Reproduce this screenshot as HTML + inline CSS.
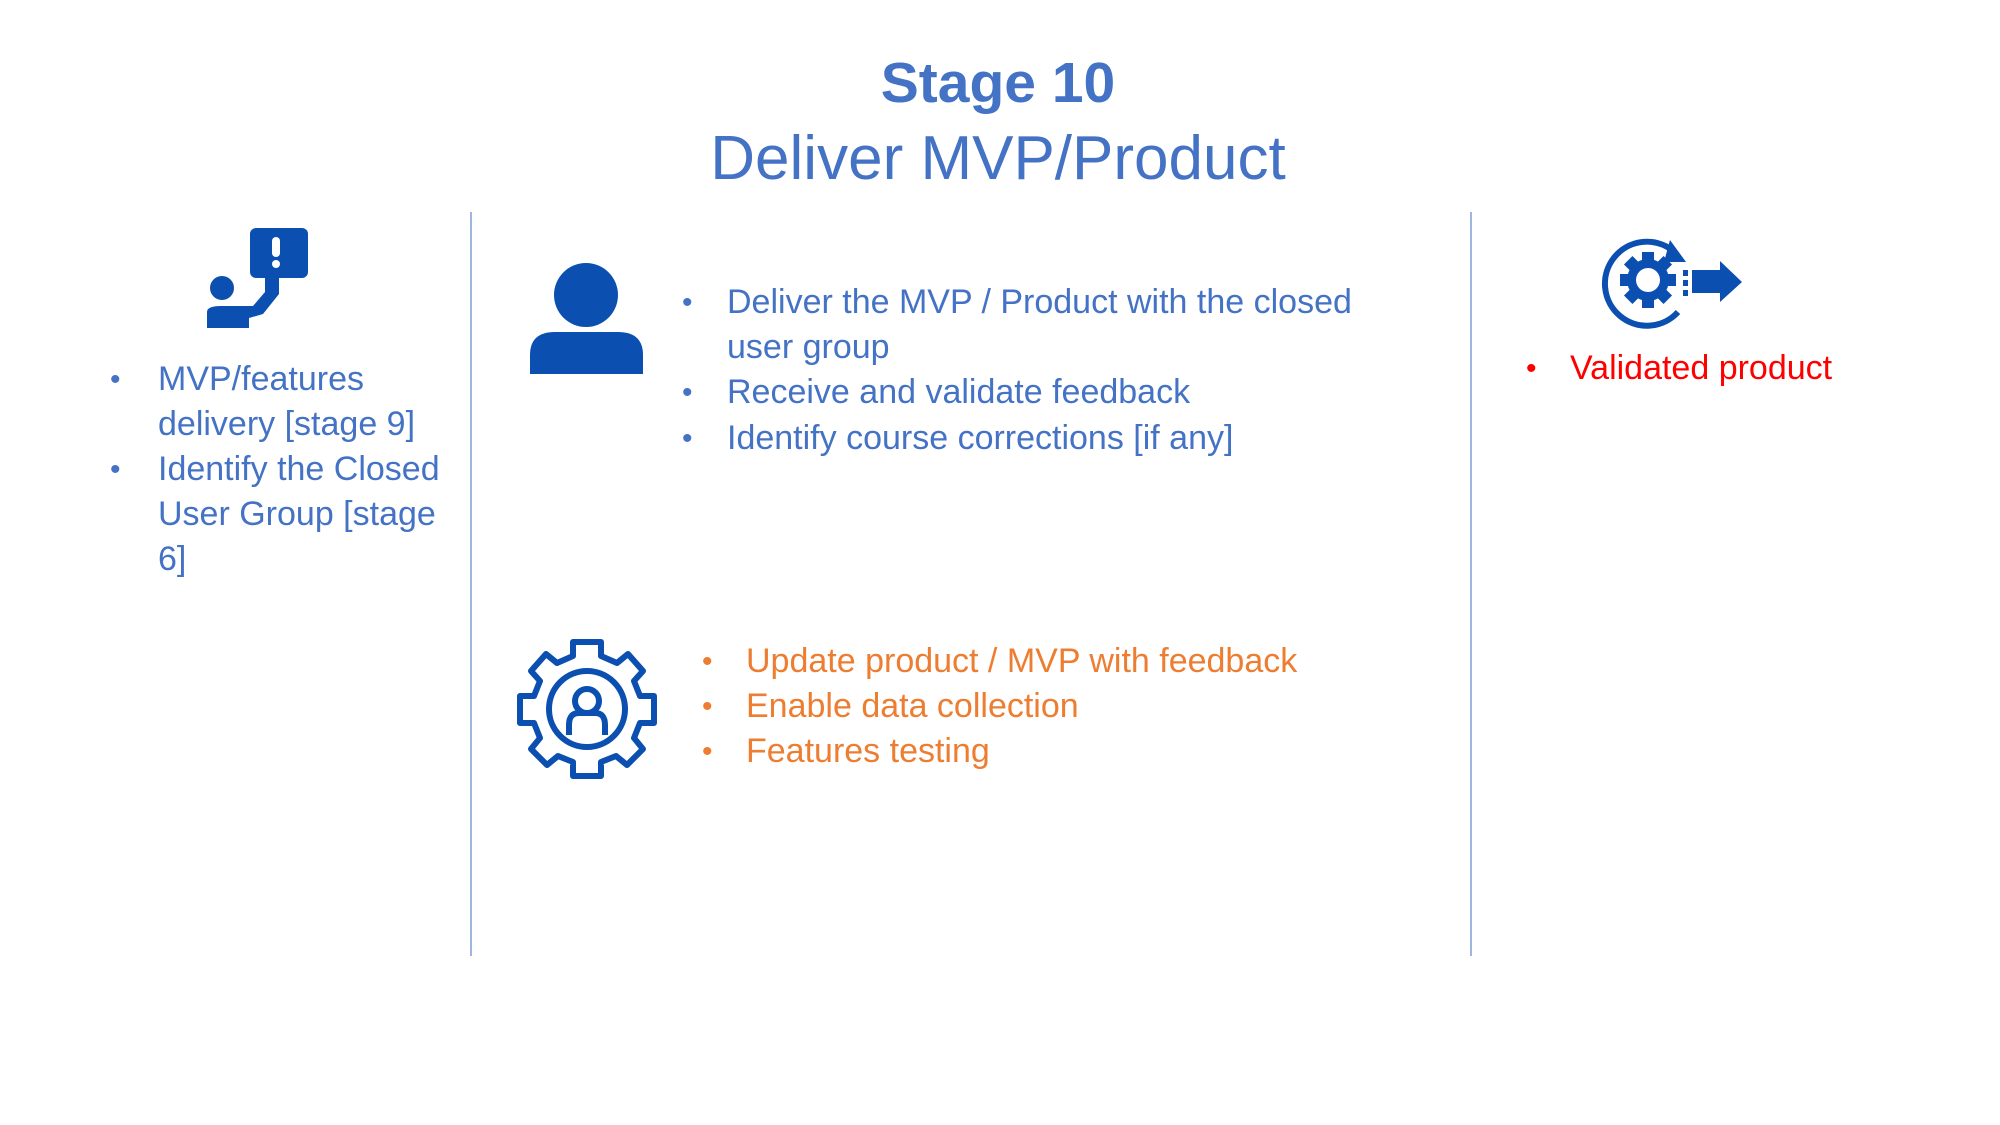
<!DOCTYPE html>
<html><head><meta charset="utf-8"><style>
body{margin:0;width:2000px;height:1125px;background:#fff;position:relative;overflow:hidden;font-family:"Liberation Sans",Calibri,sans-serif}
.t{position:absolute;white-space:nowrap;font-size:34px;line-height:45px;color:#4472C4}
.b{position:absolute;font-size:30px;line-height:45px}
.vl{position:absolute;top:212px;width:2px;height:744px;background:#9fb6de}
</style></head><body>
<div class="t" style="left:0;width:1996px;text-align:center;top:48px;font-size:57px;line-height:70px;font-weight:bold">Stage 10</div>
<div class="t" style="left:0;width:1996px;text-align:center;top:122px;font-size:62px;line-height:74px">Deliver MVP/Product</div>
<div class="vl" style="left:470px"></div>
<div class="vl" style="left:1470px"></div>

<svg style="position:absolute;left:205px;top:228px" width="105" height="102" viewBox="0 0 105 102">
<rect x="45" y="0" width="58" height="50" rx="6" fill="#0b4fb0"/>
<rect x="67" y="9" width="8" height="20" rx="4" fill="#fff"/><circle cx="71" cy="36" r="4" fill="#fff"/>
<circle cx="17" cy="60" r="12" fill="#0b4fb0"/>
<path d="M2 84 Q2 78 16 78 L48 78 L60 64 L60 48 L74 48 L74 66 L58 86 L44 90 L44 100 L2 100Z" fill="#0b4fb0"/>
</svg>

<svg style="position:absolute;left:530px;top:263px" width="113" height="111" viewBox="0 0 113 111">
<circle cx="56" cy="32" r="32" fill="#0b4fb0"/>
<path d="M0 111 L0 92 Q0 69 25 69 L88 69 Q113 69 113 92 L113 111Z" fill="#0b4fb0"/>
</svg>

<svg style="position:absolute;left:516px;top:638px" width="142" height="142" viewBox="-71 -71 142 142">
<g fill="none" stroke="#0b4fb0" stroke-width="6" stroke-linejoin="round">
<path d="M-14 -67 L14 -67 L14 -53 L30 -46 L41 -55 L56 -38 L47 -28 L53 -13 L67 -13 L67 14 L53 14 L47 29 L56 40 L40 56 L29 47 L14 53 L14 67 L-14 67 L-14 53 L-29 47 L-40 56 L-56 40 L-47 29 L-53 14 L-67 14 L-67 -13 L-53 -13 L-47 -28 L-56 -38 L-41 -55 L-30 -46 L-14 -53Z"/>
<circle r="38"/><circle cx="0" cy="-8" r="12"/>
<path d="M-18 26 L-18 16 Q-18 4 -8 4 L8 4 Q18 4 18 16 L18 26"/>
</g></svg>

<svg style="position:absolute;left:1600px;top:232px" width="145" height="100" viewBox="0 0 145 100">
<path d="M72 18 A42 42 0 1 0 78 80" fill="none" stroke="#0b4fb0" stroke-width="6"/>
<path d="M70 8 L86 30 L64 30Z" fill="#0b4fb0"/>
<g transform="translate(48,48)" fill="#0b4fb0">
<circle r="21"/>
<rect x="-6" y="-28" width="12" height="56"/><rect x="-28" y="-6" width="56" height="12"/>
<rect x="-6" y="-28" width="12" height="56" transform="rotate(45)"/><rect x="-6" y="-28" width="12" height="56" transform="rotate(-45)"/>
<circle r="12" fill="#fff"/></g>
<rect x="83" y="38" width="5" height="6" fill="#0b4fb0"/><rect x="83" y="48" width="5" height="6" fill="#0b4fb0"/><rect x="83" y="58" width="5" height="6" fill="#0b4fb0"/>
<path d="M92 38 L120 38 L120 29 L142 50 L120 70 L120 61 L92 61Z" fill="#0b4fb0"/>
</svg>

<div class="b" style="left:110px;top:357px;color:#4472C4">•</div>
<div class="t" style="left:158px;top:357px">MVP/features<br>delivery [stage 9]</div>
<div class="b" style="left:110px;top:447px;color:#4472C4">•</div>
<div class="t" style="left:158px;top:447px">Identify the Closed<br>User Group [stage<br>6]</div>

<div class="b" style="left:682px;top:280px;color:#4472C4">•</div>
<div class="t" style="left:727px;top:280px">Deliver the MVP / Product with the closed<br>user group</div>
<div class="b" style="left:682px;top:370px;color:#4472C4">•</div>
<div class="t" style="left:727px;top:370px">Receive and validate feedback</div>
<div class="b" style="left:682px;top:416px;color:#4472C4">•</div>
<div class="t" style="left:727px;top:416px">Identify course corrections [if any]</div>

<div class="b" style="left:702px;top:639px;color:#ED7D31">•</div>
<div class="t" style="left:746px;top:639px;color:#ED7D31">Update product / MVP with feedback</div>
<div class="b" style="left:702px;top:684px;color:#ED7D31">•</div>
<div class="t" style="left:746px;top:684px;color:#ED7D31">Enable data collection</div>
<div class="b" style="left:702px;top:729px;color:#ED7D31">•</div>
<div class="t" style="left:746px;top:729px;color:#ED7D31">Features testing</div>

<div class="b" style="left:1526px;top:346px;color:#FF0000">•</div>
<div class="t" style="left:1570px;top:346px;color:#FF0000">Validated product</div>
</body></html>
